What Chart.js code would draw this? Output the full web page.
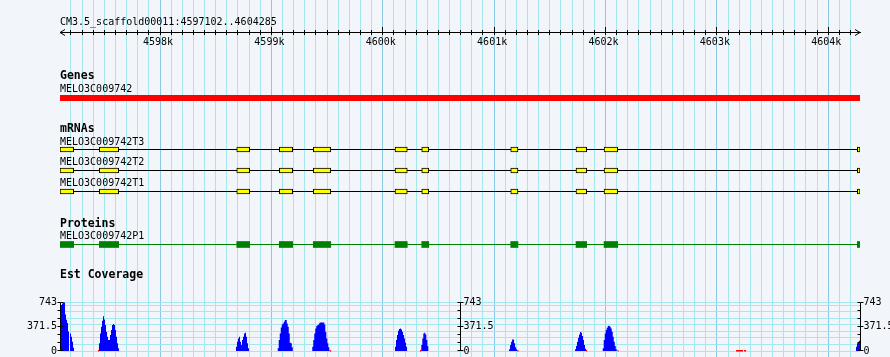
<!DOCTYPE html>
<html>
<head>
<meta charset="utf-8">
<script src="https://cdn.jsdelivr.net/npm/chart.js@4/dist/chart.umd.min.js"></script>
<style>
html,body{margin:0;padding:0;background:#F2F6FA;}
#wrap{position:relative;width:890px;height:357px;overflow:hidden;background:#F2F6FA;}
#wrap canvas{position:absolute;left:0;top:0;}
.lbl{position:absolute;left:60px;font-family:'DejaVu Sans Mono',monospace;font-size:10px;line-height:10px;white-space:nowrap;color:#000;}
.lbl.b{font-weight:bold;font-size:11.5px;line-height:11.5px;}
</style>
</head>
<body>
<div id="wrap">
<canvas id="c" width="890" height="357"></canvas>
<div class="lbl" style="top:16.5px">CM3.5_scaffold00011:4597102..4604285</div>
<div class="lbl b" style="top:70.3px">Genes</div>
<div class="lbl" style="top:83.5px">MELO3C009742</div>
<div class="lbl b" style="top:122.6px">mRNAs</div>
<div class="lbl" style="top:136.5px">MELO3C009742T3</div>
<div class="lbl" style="top:157.2px">MELO3C009742T2</div>
<div class="lbl" style="top:178.2px">MELO3C009742T1</div>
<div class="lbl b" style="top:217.6px">Proteins</div>
<div class="lbl" style="top:230.5px">MELO3C009742P1</div>
<div class="lbl b" style="top:269.3px">Est Coverage</div>
</div>
<script>
// ---------------- data ----------------
const regionStart = 4597102;
const regionEnd = 4604285;
const majorTickValues = [4598000, 4599000, 4600000, 4601000, 4602000, 4603000, 4604000];
const majorTickLabels = ['4598k', '4599k', '4600k', '4601k', '4602k', '4603k', '4604k'];
const minorTickStep = 100;

const exonStarts = [4597102, 4597455, 4598689, 4599071, 4599376, 4600110, 4600350, 4601149, 4601735, 4601987, 4604261];
const exonEnds   = [4597225, 4597629, 4598805, 4599191, 4599533, 4600220, 4600413, 4601214, 4601831, 4602110, 4604285];

const covBinSize = 9;
const covPeakStarts = [4597111, 4597452, 4598682, 4599057, 4599367, 4600110, 4600346, 4601134, 4601726, 4601975, 4604249];
const covPeakValues = [
  [705, 727, 743, 743, 560, 480, 430, 300, 0, 270, 220, 140, 50],
  [117, 270, 371, 463, 534, 483, 397, 295, 219, 168, 168, 244, 320, 397, 412, 397, 320, 219, 117, 41],
  [66, 142, 193, 219, 142, 92, 168, 219, 270, 280, 219, 117, 41],
  [41, 168, 270, 361, 407, 422, 448, 473, 473, 422, 371, 270, 127, 117, 56],
  [66, 168, 270, 346, 382, 397, 407, 432, 437, 437, 437, 437, 407, 295, 193, 117, 56],
  [66, 168, 244, 310, 336, 346, 331, 295, 244, 193, 127, 66],
  [92, 193, 270, 280, 254, 168, 76],
  [25, 92, 142, 178, 178, 117, 56, 25],
  [25, 76, 142, 203, 254, 290, 280, 229, 168, 92, 36],
  [41, 168, 270, 320, 356, 382, 387, 371, 346, 295, 219, 142, 76, 25],
  [66, 117, 142, 158]
];
const lowCovStarts = [4597443, 4599522, 4600334, 4601208, 4601825, 4602108, 4603172, 4603244];
const lowCovEnds   = [4597452, 4599535, 4600346, 4601219, 4601834, 4602117, 4603235, 4603262];
const lowCovValues = [5, 5, 5, 5, 5, 5, 5, 5];

const covAxisPositions = [4597102, 4600700, 4604285];
const covAxisTickValues = [0, 123.8, 247.7, 371.5, 495.3, 619.2, 743];
const covAxisLabelValues = [0, 371.5, 743];
const covAxisLabels = ['0', '371.5', '743'];
const covGridValues = [0, 100, 200, 300, 400, 500, 600, 700, 743];

// ---------------- layout / style ----------------
const CANVAS_H = 357;
const ROW = { majorTick: 27, minorTick: 30, ruler: 32.5, gene: 98, t3: 149.5, t2: 170.5, t1: 191.5, protein: 244.5 };
const COV_PANEL = { top: 302.5, bottom: 351 };
const MINOR = '#A4E8EE';
const MAJOR = '#8AC8E6';
const FONT = 'DejaVu Sans Mono';

const covTop = covAxisLabelValues[covAxisLabelValues.length - 1];
const unitsPerPx = covTop / (COV_PANEL.bottom - COV_PANEL.top);
const covMin = -(CANVAS_H - COV_PANEL.bottom) * unitsPerPx;
const covMax = covTop + COV_PANEL.top * unitsPerPx;

const minorTicks = [];
for (let v = Math.ceil(regionStart / minorTickStep) * minorTickStep; v <= regionEnd; v += minorTickStep) minorTicks.push(v);

// coverage points (stepped)
const covPoints = [{x: regionStart, y: 0}];
covPeakStarts.forEach((s, k) => {
  covPeakValues[k].forEach((v, i) => covPoints.push({x: s + i * covBinSize, y: v}));
  covPoints.push({x: s + covPeakValues[k].length * covBinSize, y: 0});
});
const lowPoints = [];
lowCovStarts.forEach((s, i) => {
  lowPoints.push({x: s, y: lowCovValues[i]}, {x: lowCovEnds[i], y: lowCovValues[i]}, {x: lowCovEnds[i], y: null});
});

const exonBar = (row, color, border, thick) => ({
  type: 'bar', indexAxis: 'y', xAxisID: 'x', yAxisID: 'y', grouped: false,
  data: exonStarts.map((s, i) => ({x: [s, exonEnds[i]], y: row})),
  backgroundColor: color, borderColor: '#000000', borderWidth: border, borderSkipped: false,
  barPercentage: 1, categoryPercentage: 1, maxBarThickness: thick, order: 0
});
const hLine = (row, color, width) => ({
  type: 'line', xAxisID: 'x', yAxisID: 'y',
  data: [{x: regionStart, y: row}, {x: regionEnd, y: row}],
  borderColor: color, borderWidth: width, pointRadius: 0, borderCapStyle: 'butt', fill: false, order: 1
});

const decoPlugin = {
  id: 'deco',
  afterDraw(chart) {
    const {ctx} = chart;
    const x = chart.scales.x, y = chart.scales.y, cov = chart.scales.cov;
    ctx.save();
    ctx.strokeStyle = '#000'; ctx.fillStyle = '#000'; ctx.lineWidth = 1;
    // ruler arrows
    const yr = y.getPixelForValue(ROW.ruler);
    const xl = x.getPixelForValue(regionStart), xr = x.getPixelForValue(regionEnd);
    ctx.beginPath();
    ctx.moveTo(xl + 5, yr - 3); ctx.lineTo(xl, yr); ctx.lineTo(xl + 5, yr + 3);
    ctx.moveTo(xr - 5, yr - 3); ctx.lineTo(xr, yr); ctx.lineTo(xr - 5, yr + 3);
    ctx.stroke();
    // coverage axes
    ctx.font = '10px "' + FONT + '"';
    ctx.textBaseline = 'middle';
    covAxisPositions.forEach((bp, k) => {
      const px = Math.floor(x.getPixelForValue(bp)) + 0.5;
      const yTop = Math.floor(cov.getPixelForValue(covTop) - 0.5) + 0.5;
      const yBot = Math.floor(cov.getPixelForValue(0) - 0.5) + 0.5;
      ctx.beginPath();
      ctx.moveTo(px, yTop); ctx.lineTo(px, yBot + 0.5);
      covAxisTickValues.forEach(v => {
        const py = Math.floor(cov.getPixelForValue(v) - 0.5) + 0.5;
        ctx.moveTo(px - 3, py); ctx.lineTo(px, py);
      });
      covAxisLabelValues.forEach(v => {
        const py = Math.floor(cov.getPixelForValue(v) - 0.5) + 0.5;
        ctx.moveTo(px, py); ctx.lineTo(px + 3, py);
      });
      ctx.stroke();
      covAxisLabelValues.forEach((v, i) => {
        const py = cov.getPixelForValue(v);
        if (k === 0) { ctx.textAlign = 'right'; ctx.fillText(covAxisLabels[i], px - 3.5, py); }
        else { ctx.textAlign = 'left'; ctx.fillText(covAxisLabels[i], px + 3, py); }
      });
    });
    ctx.restore();
  }
};

const tickFont = {family: FONT, size: 10};
new Chart(document.getElementById('c'), {
  type: 'line',
  data: {
    datasets: [
      exonBar(ROW.t3, '#FFFF00', 1, 5),
      exonBar(ROW.t2, '#FFFF00', 1, 5),
      exonBar(ROW.t1, '#FFFF00', 1, 5),
      exonBar(ROW.protein, '#008000', 0, 6),
      hLine(ROW.gene, '#FF0000', 6),
      hLine(ROW.t3, '#000000', 1),
      hLine(ROW.t2, '#000000', 1),
      hLine(ROW.t1, '#000000', 1),
      hLine(ROW.protein, '#008000', 1),
      {
        type: 'line', xAxisID: 'x', yAxisID: 'cov', data: covPoints, stepped: true,
        fill: 'origin', backgroundColor: '#0000FF', borderColor: 'rgba(0,0,0,0)', borderWidth: 0,
        pointRadius: 0, order: 2
      },
      {
        type: 'line', xAxisID: 'x', yAxisID: 'cov', data: lowPoints, spanGaps: false,
        borderColor: '#FF0000', borderWidth: 1.5, pointRadius: 0, fill: false, borderCapStyle: 'butt', order: 1
      }
    ]
  },
  options: {
    responsive: false, animation: false, devicePixelRatio: 1, events: [],
    layout: {padding: {left: 60, right: 30, top: 0, bottom: 0}},
    plugins: {legend: {display: false}, tooltip: {enabled: false}},
    scales: {
      x: {
        type: 'linear', axis: 'x', position: {y: ROW.ruler}, min: regionStart, max: regionEnd,
        offset: false, beginAtZero: false,
        afterBuildTicks: s => { s.ticks = minorTicks.map(v => ({value: v})); },
        grid: {
          color: c => (c.tick && majorTickValues.includes(Math.round(c.tick.value))) ? MAJOR : MINOR,
          lineWidth: 1, drawTicks: true, tickLength: 2, tickColor: '#000', offset: false
        },
        border: {display: true, color: '#000', width: 1},
        ticks: {
          autoSkip: false, maxRotation: 0, minRotation: 0, padding: 2, labelOffset: -2, color: '#000', font: tickFont,
          callback: v => { const i = majorTickValues.indexOf(Math.round(v)); return i >= 0 ? majorTickLabels[i] : ''; }
        }
      },
      xUp: {
        type: 'linear', axis: 'x', position: {y: ROW.minorTick}, min: regionStart, max: regionEnd,
        offset: false, beginAtZero: false,
        afterBuildTicks: s => { s.ticks = minorTicks.map(v => ({value: v})); },
        grid: {drawOnChartArea: false, drawTicks: true, tickLength: 2, tickColor: '#000'},
        border: {display: false}, ticks: {display: false}
      },
      xMajor: {
        type: 'linear', axis: 'x', position: {y: ROW.majorTick}, min: regionStart, max: regionEnd,
        offset: false, beginAtZero: false,
        afterBuildTicks: s => { s.ticks = majorTickValues.map(v => ({value: v})); },
        grid: {drawOnChartArea: false, drawTicks: true, tickLength: 3, tickColor: '#000'},
        border: {display: false}, ticks: {display: false}
      },
      y: {
        type: 'linear', axis: 'y', position: 'left', min: 0, max: CANVAS_H, reverse: true,
        offset: false, beginAtZero: false, display: false, grid: {offset: false}
      },
      cov: {
        type: 'linear', axis: 'y', position: 'left', min: covMin, max: covMax,
        offset: false, beginAtZero: false, display: true,
        afterBuildTicks: s => { s.ticks = covGridValues.map(v => ({value: v})); },
        grid: {color: MINOR, lineWidth: 1, drawTicks: false},
        border: {display: false}, ticks: {display: false}
      }
    }
  },
  plugins: [decoPlugin]
});
</script>
</body>
</html>
